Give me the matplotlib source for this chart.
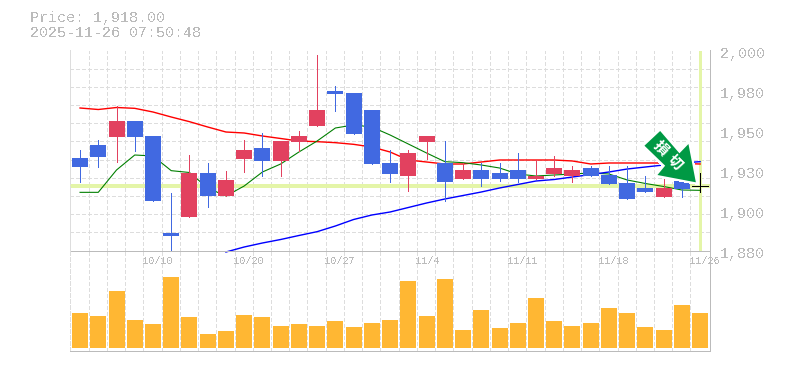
import numpy as np
import matplotlib
matplotlib.use("Agg")
import matplotlib.pyplot as plt
from matplotlib.patches import Polygon
from matplotlib.transforms import Affine2D, ScaledTranslation

plt.rcParams['text.antialiased'] = False
plt.rcParams['lines.antialiased'] = False
plt.rcParams['patch.antialiased'] = False
plt.rcParams['font.family'] = ['Liberation Mono', 'DejaVu Sans Mono']

# ---- data ----
body_top = [1935.5,1943.3,1957.7,1957.7,1948.7,1890.7,1926.5,1926.5,1922.3,1940.3,1941.5,1945.7,1948.7,1964.3,
            1975.7,1974.5,1964.3,1932.5,1938.5,1948.7,1932.5,1928.3,1928.3,1926.5,1928.3,1924.7,1929.5,1928.3,
            1929.5,1925.3,1920.5,1917.5,1917.5,1921.7,1918.7]
body_bot = [1930.1,1936.1,1948.1,1948.1,1909.9,1888.7,1900.3,1912.7,1912.7,1934.9,1933.7,1933.7,1945.1,1954.7,
            1973.9,1949.9,1931.9,1925.9,1924.7,1945.1,1921.1,1922.9,1922.9,1922.9,1922.9,1922.9,1925.9,1924.7,
            1924.7,1919.9,1910.9,1915.1,1912.1,1916.9,1918.7]
high = [1940.3,1946.3,1966.7,1957.7,1948.7,1914.3,1937.3,1932.5,1927.7,1946.3,1950.5,1945.7,1951.7,1997.3,
        1978.7,1974.5,1964.3,1940.3,1940.3,1948.7,1945.7,1932.5,1932.5,1932.5,1938.5,1934.3,1936.7,1930.7,
        1930.7,1930.7,1930.7,1924.7,1922.9,1921.7,1926.5]
low = [1921.1,1930.1,1933.1,1939.7,1909.9,1880.0,1900.3,1906.3,1912.7,1927.1,1924.7,1924.7,1939.7,1954.7,
       1963.7,1949.9,1931.9,1921.1,1915.7,1934.9,1909.7,1922.9,1918.7,1921.7,1921.1,1922.9,1924.7,1921.1,
       1924.7,1919.9,1910.9,1915.1,1912.1,1912.1,1915.1]
candle_kind = list("bbrbbbrbrrbrrrbbbbrrbrbbbrrrbbbbrbk")
ma_red = [1965.5,1964.6,1965.8,1965.3,1963.1,1960.1,1957.3,1954.1,1951.1,1950.5,1948.7,1947.2,1945.7,1945.3,
          1944.7,1943.7,1942.1,1939.1,1934.3,1933.1,1931.9,1931.9,1933.1,1934.3,1934.3,1934.3,1934.3,1933.7,
          1931.9,1932.5,1932.5,1932.5,1932.5,1932.2,1931.9]
ma_green = [1914.9,1914.9,1928.3,1937.3,1936.7,1927.9,1926.8,1917.5,1912.7,1918.7,1927.1,1931.9,1939.1,1945.7,
            1953.5,1955.3,1954.1,1949.3,1943.9,1938.5,1933.3,1932.7,1931.3,1929.5,1925.9,1924.7,1925.3,1925.9,
            1926.5,1925.9,1922.3,1920.2,1918.4,1916.3,1916.1]
ma_blue = [np.nan]*8 + [1879.1,1882.1,1884.5,1886.6,1889.0,1891.3,1894.7,1898.6,1901.3,1903.1,1905.8,1908.5,
           1910.9,1913.0,1915.1,1917.5,1919.6,1921.7,1922.6,1924.1,1925.6,1927.1,1928.9,1930.1,1931.3,1932.5,1933.3]
volume = [35,32,57,28,24,71,31,14,17,33,31,22,24,22,27,21,25,28,
          67,32,69,18,38,20,25,50,27,22,25,40,35,21,18,43,35]
last_price = 1918.7
price_ticks = [2000,1976,1952,1928,1904,1880]
price_labels = ['2,000','1,980','1,950','1,930','1,900','1,880']
date_pos = [4,9,14,19,24,29,34]
date_labels = ['10/10','10/20','10/27','11/4','11/11','11/18','11/26']
title_lines = ['Price: 1,918.00','2025-11-26 07:50:48']
signal_text = ['損','切']

# ---- style ----
W, H = 785, 370
BLUE, RED = '#4169E1', '#E2415F'
kind_colors = {'b': BLUE, 'r': RED, 'k': 'black'}
GREY = '#BBBBBB'
PALE = '#E4F5A8'
px = 0.72
DASH = (0, (3, 2.2))

fig = plt.figure(figsize=(W/100, H/100), dpi=100, facecolor='white')
def rect(l, t, r, b):
    return [l/W, 1-b/H, (r-l)/W, (b-t)/H]
ax = fig.add_axes(rect(70, 50.5, 710, 250.5))
axv = fig.add_axes(rect(70, 250.5, 710, 350.5), sharex=ax)
xs = np.arange(len(body_top))
xlim = (-0.55, 34.54)
grid_x = np.arange(0, 36)*1.0 - 0.53

for a in (ax, axv):
    a.set_facecolor('none')
    a.set_xlim(*xlim)
    a.set_xticks(grid_x[:-1], minor=True)
    a.tick_params(which='both', length=0)
    a.grid(True, which='minor', axis='x', color='#DDDDDD', lw=px, ls=DASH)
    a.set_axisbelow(True)
    for s in a.spines.values():
        s.set_color('#BBBBBB'); s.set_linewidth(px)
    a.spines['top'].set_visible(False)
    a.spines['left'].set_color('#DDDDDD')
    a.spines['left'].set_linestyle(DASH)

ax.set_ylim(1880, 2000)
ax.set_yticks(np.linspace(1880, 2000, 12), minor=True)
ax.grid(True, which='minor', axis='y', color='#DDDDDD', lw=px, ls=DASH)
ax.axhline(2000, color='#DDDDDD', lw=px, ls=DASH, zorder=1)
ax.yaxis.tick_right()
ax.set_yticks(price_ticks, price_labels)
ax.tick_params(axis='y', which='major', pad=7, labelsize=10.8, labelcolor=GREY)
shift = ScaledTranslation(0, -2/100, fig.dpi_scale_trans)
for t in ax.get_yticklabels():
    t.set_transform(t.get_transform() + shift)
ax.set_xticks(date_pos, date_labels)
ax.tick_params(axis='x', which='major', pad=4, labelsize=7.4, labelcolor=GREY)
shift_x = ScaledTranslation(-11/100, 0, fig.dpi_scale_trans)
for t in ax.get_xticklabels():
    t.set_ha('left')
    t.set_transform(t.get_transform() + shift_x)
plt.setp(axv.get_xticklabels(), visible=False)
axv.set_yticks([])

# pale guide lines at the latest price / latest bar
ax.axhline(last_price, color=PALE, lw=4*px, zorder=1.5)
ax.axvline(xs[-1], ymin=0.0075, color=PALE, lw=3*px, zorder=1.5)

# moving averages
ax.plot(xs, ma_red, color='#FF0000', lw=1.4*px, zorder=2, antialiased=True)
ax.plot(xs, ma_green, color='#007F00', lw=1.1*px, zorder=2, antialiased=True)
ax.plot(xs, ma_blue, color='#0000FF', lw=1.4*px, zorder=2, clip_on=False, antialiased=True)

# candles
for i in xs:
    c = kind_colors[candle_kind[i]]
    ax.vlines(i, low[i], high[i], color=c, lw=px, zorder=3)
    h = body_top[i]-body_bot[i]
    if h > 0:
        ax.bar(i, h, bottom=body_bot[i], width=0.877, color=c, lw=0, zorder=3.1)
    else:
        ax.hlines(body_top[i], i-0.44, i+0.44, color=c, lw=px, zorder=3.1)

# signal arrow anchored to the latest bar (offsets in pixels, y up)
anchor = Affine2D().scale(fig.dpi/100) + ScaledTranslation(xs[-1], last_price, ax.transData)
arrow = [(-40,55),(-55.7,40.3),(-35,20.3),(-42.7,11),(-4.3,3.7),(-11.7,42),(-20.7,32.7)]
ax.add_patch(Polygon(arrow, closed=True, transform=anchor, facecolor='white', edgecolor='white',
                     lw=2.6, zorder=5, clip_on=False))
ax.add_patch(Polygon(arrow, closed=True, transform=anchor, facecolor='#009944', edgecolor='none',
                     lw=0, zorder=5.1, clip_on=False, antialiased=True))
for (dx, dy), s in zip([(-39,38),(-25,24)], signal_text):
    ax.text(0, 0, s, transform=Affine2D().translate(dx, dy)+ScaledTranslation(xs[-1], last_price, ax.transData),
            color='white', fontsize=10.5, fontweight='bold', rotation=-45, rotation_mode='anchor',
            ha='center', va='center', family=['Noto Sans CJK JP'], zorder=6, antialiased=True)

# volume
axv.set_ylim(-2.5, 97.5)
axv.bar(xs, volume, width=0.877, color='#FFB733', lw=0, zorder=3)

# header text
fig.text(30/W, 1-18/H, title_lines[0], color=GREY, fontsize=10.8, ha='left', va='center')
fig.text(30/W, 1-33/H, title_lines[1], color=GREY, fontsize=10.8, ha='left', va='center')

fig.savefig('out.png', dpi=100, facecolor='white')
